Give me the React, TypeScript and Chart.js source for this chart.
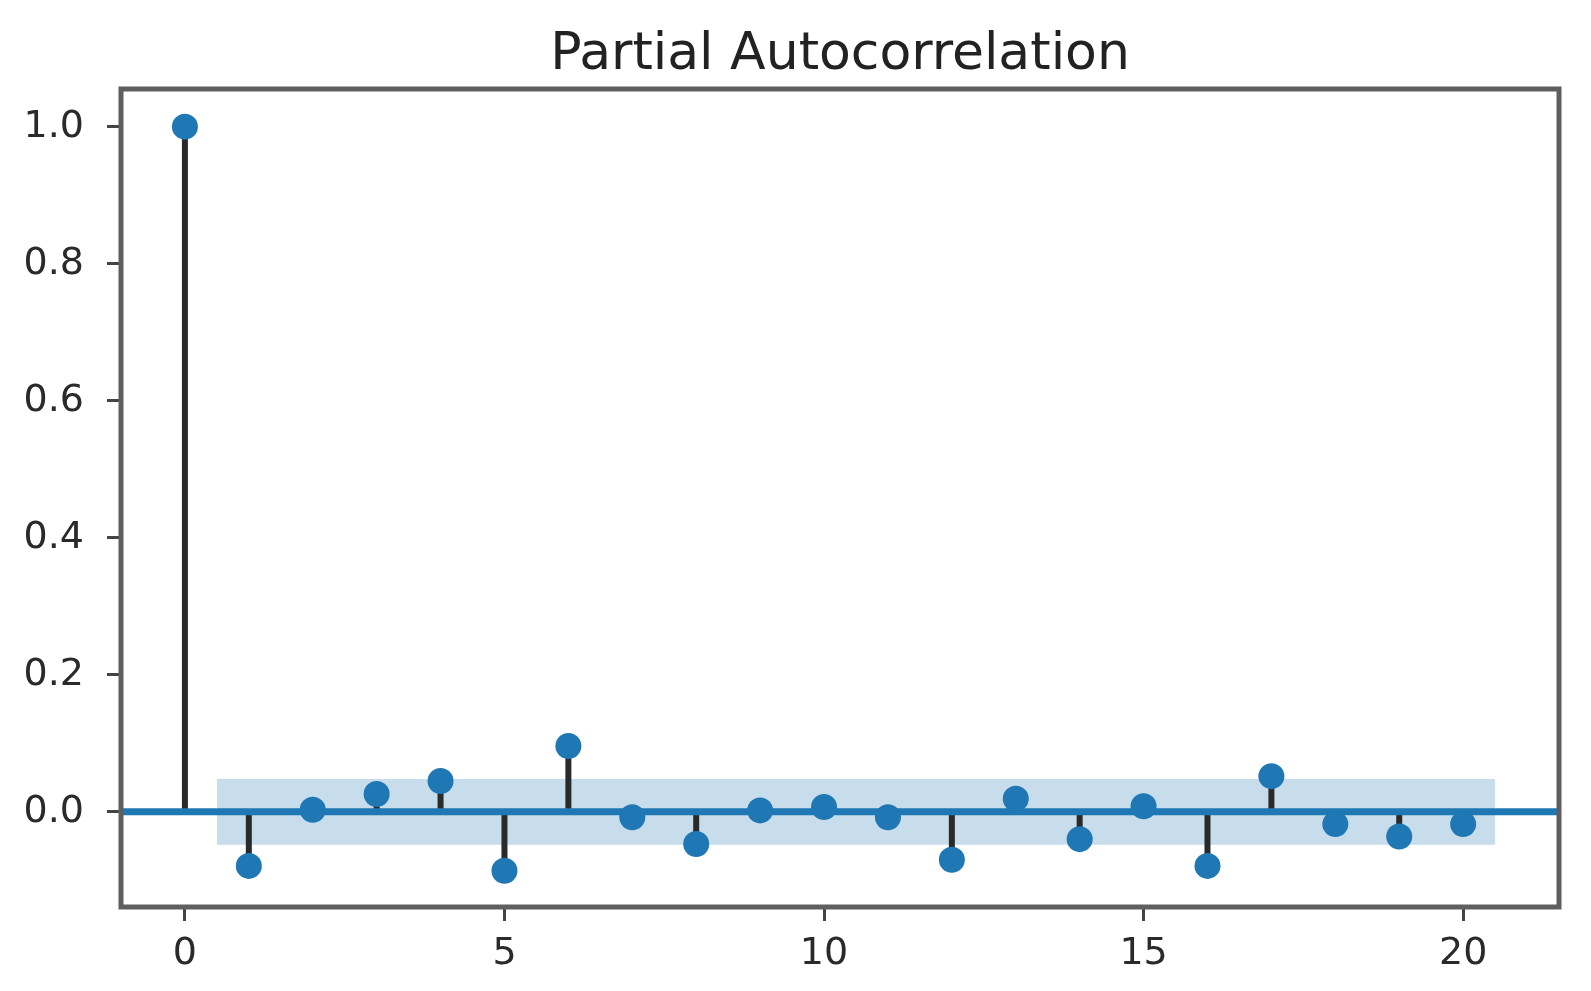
import React, { useEffect, useRef } from "react";
import { Chart, registerables } from "chart.js";

Chart.register(...registerables);

const chartTitle = "Partial Autocorrelation";
const lags = [0, 1, 2, 3, 4, 5, 6, 7, 8, 9, 10, 11, 12, 13, 14, 15, 16, 17, 18, 19, 20];
const pacfValues = [
  1.0, -0.079, 0.003, 0.026, 0.045, -0.086, 0.096, -0.008, -0.047, 0.002, 0.007,
  -0.008, -0.070, 0.019, -0.040, 0.008, -0.079, 0.052, -0.018, -0.036, -0.018,
];
const confUpper = [0.048, 0.048];
const confLower = [-0.048, -0.048];
const confLags = [0.5, 20.5];
const xTicks = [0, 5, 10, 15, 20];
const xTickLabels = ["0", "5", "10", "15", "20"];
const yTicks = [0, 0.2, 0.4, 0.6, 0.8, 1.0];
const yTickLabels = ["0.0", "0.2", "0.4", "0.6", "0.8", "1.0"];
const xLimits = [-1, 21.5];
const yLimits = [-0.139, 1.055];

const BLUE = "#1f77b4";
const FONT = "'DejaVu Sans', sans-serif";

export default function App() {
  const canvasRef = useRef<HTMLCanvasElement | null>(null);

  useEffect(() => {
    const canvas = canvasRef.current;
    if (!canvas) return;

    const stemData: any[] = [];
    lags.forEach((l, i) => {
      stemData.push({ x: l, y: 0 });
      stemData.push({ x: l, y: pacfValues[i] });
      stemData.push({ x: l, y: null });
    });

    const framePlugin = {
      id: "frame",
      afterDatasetsDraw(chart: any) {
        const { ctx, chartArea } = chart;
        ctx.save();
        ctx.strokeStyle = "#5e5e5e";
        ctx.lineWidth = 5;
        ctx.strokeRect(
          chartArea.left,
          chartArea.top,
          chartArea.right - chartArea.left,
          chartArea.bottom - chartArea.top
        );
        ctx.restore();
      },
      afterDraw(chart: any) {
        const { ctx, chartArea } = chart;
        ctx.save();
        ctx.font = `52px ${FONT}`;
        ctx.fillStyle = "#222";
        ctx.textAlign = "center";
        ctx.textBaseline = "alphabetic";
        ctx.fillText(chartTitle, (chartArea.left + chartArea.right) / 2, 69);
        ctx.restore();
      },
    };

    const chart = new Chart(canvas, {
      type: "line",
      data: {
        datasets: [
          {
            label: "points",
            data: lags.map((l, i) => ({ x: l, y: pacfValues[i] })),
            showLine: false,
            pointRadius: 13,
            pointBackgroundColor: BLUE,
            pointBorderWidth: 0,
            order: 1,
          } as any,
          {
            label: "zero",
            data: xLimits.map((x) => ({ x, y: 0 })),
            borderColor: BLUE,
            borderWidth: 7,
            pointRadius: 0,
            order: 2,
          },
          {
            label: "stems",
            data: stemData,
            borderColor: "#2a2a2a",
            borderWidth: 6,
            pointRadius: 0,
            spanGaps: false,
            order: 3,
          },
          {
            label: "confUpper",
            data: confLags.map((x, i) => ({ x, y: confUpper[i] })),
            borderWidth: 0,
            borderColor: "rgba(0,0,0,0)",
            pointRadius: 0,
            fill: false,
            order: 5,
          },
          {
            label: "confLower",
            data: confLags.map((x, i) => ({ x, y: confLower[i] })),
            borderWidth: 0,
            borderColor: "rgba(0,0,0,0)",
            backgroundColor: "rgba(31,119,180,0.25)",
            pointRadius: 0,
            fill: "-1",
            order: 4,
          },
        ],
      },
      options: {
        animation: false,
        responsive: false,
        devicePixelRatio: 1,
        layout: { padding: { left: 0, right: 32, top: 89, bottom: 0 } },
        plugins: {
          legend: { display: false },
          tooltip: { enabled: false },
          title: { display: false },
        },
        scales: {
          x: {
            type: "linear",
            min: xLimits[0],
            max: xLimits[1],
            afterBuildTicks: (s: any) => {
              s.ticks = xTicks.map((v) => ({ value: v }));
            },
            afterFit: (s: any) => {
              s.height = 84;
            },
            ticks: {
              autoSkip: false,
              maxRotation: 0,
              padding: 10,
              color: "#2a2a2a",
              font: { family: FONT, size: 38 },
              callback: (v: any) => {
                const idx = xTicks.indexOf(Number(v));
                return idx >= 0 ? xTickLabels[idx] : "";
              },
            },
            grid: {
              drawOnChartArea: false,
              drawTicks: true,
              tickLength: 14,
              tickWidth: 3,
              tickColor: "#444",
            },
            border: { display: false },
          },
          y: {
            type: "linear",
            min: yLimits[0],
            max: yLimits[1],
            afterBuildTicks: (s: any) => {
              s.ticks = yTicks.map((v) => ({ value: v }));
            },
            afterFit: (s: any) => {
              s.width = 121;
            },
            ticks: {
              autoSkip: false,
              padding: 23,
              color: "#2a2a2a",
              font: { family: FONT, size: 38 },
              callback: (v: any) => {
                const idx = yTicks.findIndex((t) => Math.abs(t - Number(v)) < 1e-9);
                return idx >= 0 ? yTickLabels[idx] : "";
              },
            },
            grid: {
              drawOnChartArea: false,
              drawTicks: true,
              tickLength: 14,
              tickWidth: 3,
              tickColor: "#444",
            },
            border: { display: false },
          },
        },
      } as any,
      plugins: [framePlugin],
    });

    return () => {
      chart.destroy();
    };
  }, []);

  return (
    <div style={{ position: "fixed", left: 0, top: 0, width: 1591, height: 991, background: "#fff" }}>
      <canvas ref={canvasRef} width={1591} height={991} style={{ display: "block" }} />
    </div>
  );
}
